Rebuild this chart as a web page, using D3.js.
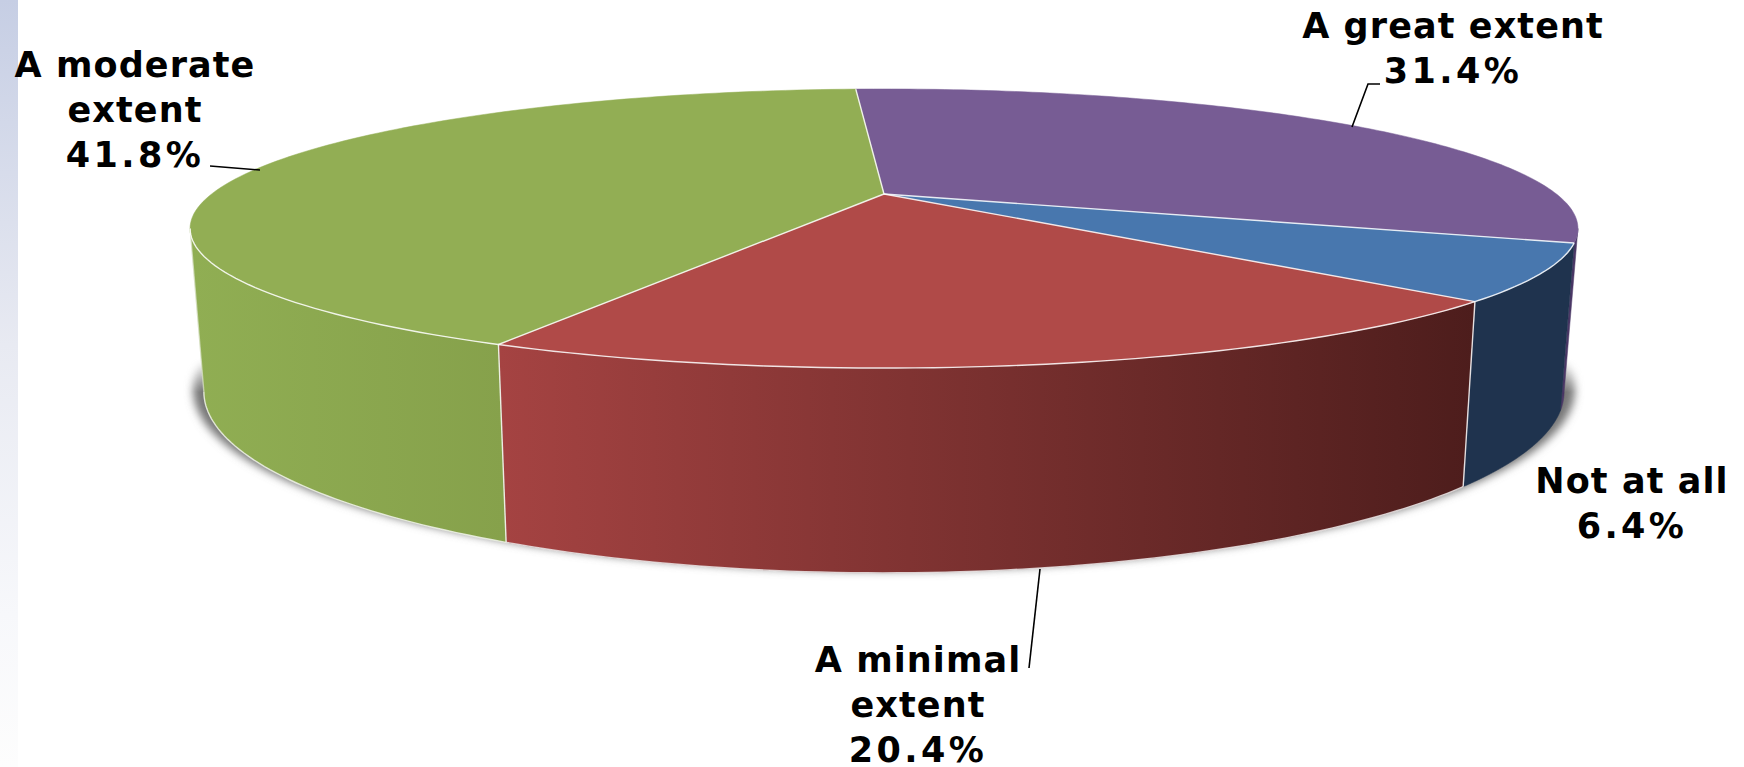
<!DOCTYPE html>
<html><head><meta charset="utf-8">
<script src="https://cdn.jsdelivr.net/npm/d3@7"></script>
<style>html,body{margin:0;padding:0;background:#fff;overflow:hidden}svg{display:block}text{font-family:"DejaVu Sans",sans-serif;font-weight:700;fill:#000;text-anchor:middle;letter-spacing:1.1px}</style>
</head><body>
<script>
const categories = ["A great extent","Not at all","A minimal extent","A moderate extent"];
const values = [31.4,6.4,20.4,41.8];
const topColors = ["#775c94","#4877ae","#b04a48","#92ae54"];
const wallStart = ["#4b3866","#1f334e","#a54342","#90ae53"];
const wallEnd = ["#4b3866","#1f334e","#4d1d1c","#86a14b"];
const labelLines = [["A great extent","31.4%"],["Not at all","6.4%"],["A minimal","extent","20.4%"],["A moderate","extent","41.8%"]];

const W=1744,H=767,rad=Math.PI/180;
const svg=d3.select("body").append("svg").attr("width",W).attr("height",H);
const defs=svg.append("defs");
const strip=defs.append("linearGradient").attr("id","strip").attr("x1",0).attr("x2",0).attr("y1",0).attr("y2",1);
[[0,"#c6cee4"],[.45,"#e8eaf2"],[.8,"#f7f8fb"],[1,"#fdfdfd"]].forEach(([o,c])=>strip.append("stop").attr("offset",o).attr("stop-color",c));
svg.append("rect").attr("width",18).attr("height",H).attr("fill","url(#strip)");
defs.append("filter").attr("id","blur").attr("x","-5%").attr("y","-5%").attr("width","110%").attr("height","110%")
  .append("feGaussianBlur").attr("stdDeviation",4);
const fade=defs.append("linearGradient").attr("id","fade").attr("gradientUnits","userSpaceOnUse").attr("x1",0).attr("x2",0).attr("y1",358).attr("y2",392);
fade.append("stop").attr("offset",0).attr("stop-color","#000");
fade.append("stop").attr("offset",1).attr("stop-color","#fff");
defs.append("mask").attr("id","below").attr("maskUnits","userSpaceOnUse").attr("x",0).attr("y",0).attr("width",W).attr("height",H)
  .append("rect").attr("width",W).attr("height",H).attr("fill","url(#fade)");

// perspective projection of the pie's circles
const k=.2473;
const project=(cfg)=>(theta,r=1)=>{
  const u=r*Math.sin(theta),v=-r*Math.cos(theta),d=1-k*v;
  return [cfg.cx+cfg.a*u/d,cfg.cy+cfg.b*v/d];
};
const topP=project({cx:884,cy:194,a:672.4,b:131});
const botP=project({cx:884,cy:347,a:659,b:170});
const line=d3.line();
const arcPts=(p,a0,a1,r=1)=>d3.range(0,121).map(i=>p(a0+(a1-a0)*i/120,r));

const arcs=d3.pie().sort(null).startAngle(-3*rad).endAngle(357*rad)(values);
const visA=Math.acos(-k),visB=2*Math.PI-visA;

// soft shadow
svg.append("g").attr("mask","url(#below)").append("g").attr("filter","url(#blur)").append("path")
  .attr("d",line(arcPts(botP,0,2*Math.PI))+"Z")
  .attr("transform","translate(884,0) scale(1.016,1) translate(-884,-2)")
  .attr("fill","#777");

// walls
arcs.forEach((s,i)=>{
  const a0=Math.max(s.startAngle,visA),a1=Math.min(s.endAngle,visB);
  if(a1<=a0)return;
  const t=arcPts(topP,a0,a1),b=arcPts(botP,a0,a1);
  const xs=[...t,...b].map(d=>d[0]);
  const id="w"+i;
  const g=defs.append("linearGradient").attr("id",id).attr("gradientUnits","userSpaceOnUse")
    .attr("x1",d3.min(xs)).attr("x2",d3.max(xs)).attr("y1",0).attr("y2",0);
  g.append("stop").attr("offset",0).attr("stop-color",wallStart[i]);
  g.append("stop").attr("offset",1).attr("stop-color",wallEnd[i]);
  svg.append("path").attr("d",line([...t,...b.reverse()])+"Z").attr("fill",`url(#${id})`).attr("stroke",wallEnd[i]).attr("stroke-width",.5);
});

// top faces
const apex=topP(0,0);
arcs.forEach((s,i)=>{
  svg.append("path").attr("d",line([apex,...arcPts(topP,s.startAngle,s.endAngle)])+"Z")
    .attr("fill",topColors[i]).attr("stroke",topColors[i]).attr("stroke-width",.5);
});

// white edges
const edge=svg.append("g").attr("fill","none").attr("stroke","#fff").attr("stroke-opacity",.85).attr("stroke-width",1.4);
arcs.forEach(s=>{ edge.append("path").attr("d",line([apex,topP(s.startAngle)])); });
edge.append("path").attr("d",line(arcPts(topP,arcs[0].endAngle,visB)));
edge.append("path").attr("d",line(arcPts(botP,arcs[1].endAngle,visB))).attr("stroke-opacity",.75);
[arcs[1].endAngle,arcs[2].endAngle].forEach(a=>edge.append("path").attr("d",line([topP(a),botP(a)])));
edge.append("path").attr("d",line([topP(visB),botP(visB)])).attr("stroke-opacity",.5);

// leaders
const lead=svg.append("g").attr("fill","none").attr("stroke","#000").attr("stroke-width",1.6);
lead.append("path").attr("d",line([[210,166],[260,170]]));
lead.append("path").attr("d",line([[1380,84],[1368,84],[1352,127]]));
lead.append("path").attr("d",line([[1040,569],[1029,668]]));

// labels
const labelPos=[[1453,38],[1632,493],[918,672],[135,77]];
const fontSize=35,leading=45;
labelLines.forEach((ls,i)=>{
  const [x,y]=labelPos[i];
  const t=svg.append("text").attr("font-size",fontSize).attr("aria-label",categories[i]);
  ls.forEach((l,j)=>{
    const pct=l.endsWith("%");
    t.append("tspan").attr("x",x).attr("y",y+j*leading).style("letter-spacing",pct?"3.4px":null).text(l);
  });
});
</script>
</body></html>
